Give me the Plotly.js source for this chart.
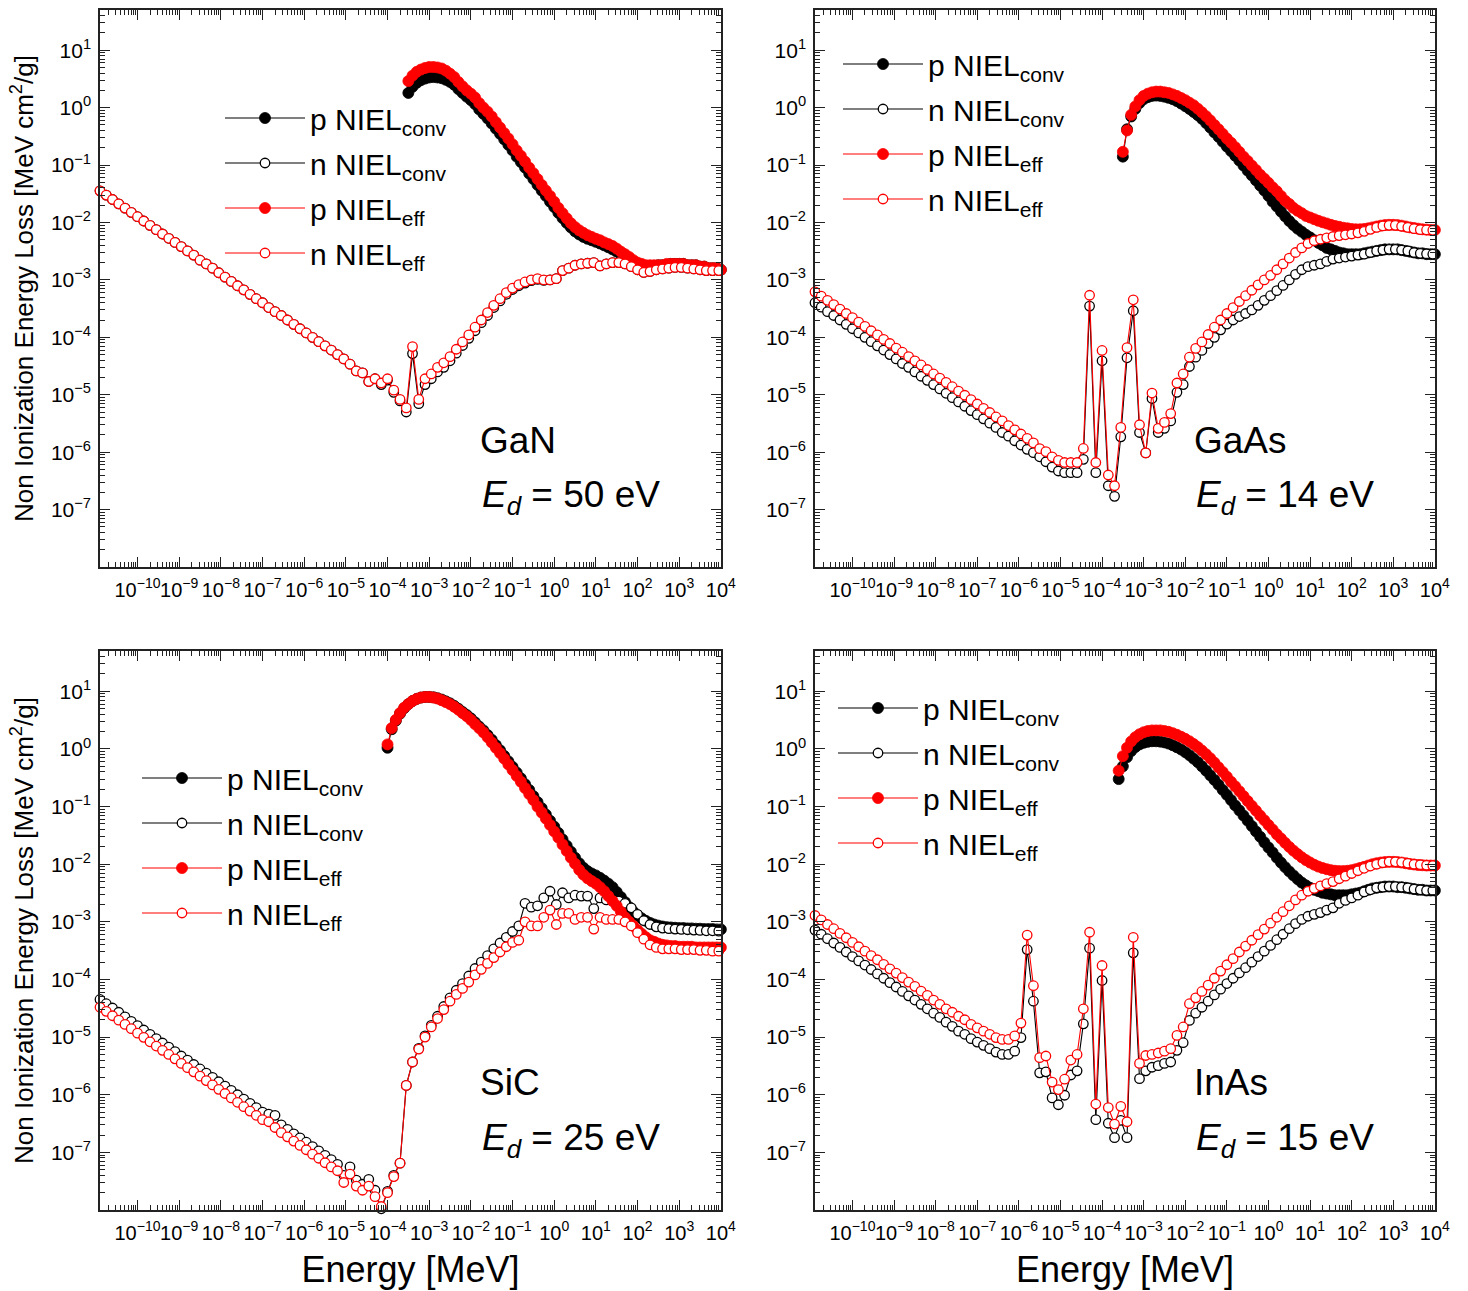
<!DOCTYPE html>
<html>
<head>
<meta charset="utf-8">
<script src="https://cdn.plot.ly/plotly-3.0.1.min.js"></script>
<style>
html,body{margin:0;padding:0;background:#ffffff;}
#chart{width:1468px;height:1291px;}
</style>
</head>
<body>
<div id="chart"></div>
<script>
const N = null;

// Energy grids, stored as log10(E / MeV)
const nLogE = [
-10.9,-10.75,-10.6,-10.45,-10.3,-10.15,-10.0,-9.85,-9.7,-9.55,
-9.4,-9.25,-9.1,-8.95,-8.8,-8.65,-8.5,-8.35,-8.2,-8.05,
-7.9,-7.75,-7.6,-7.45,-7.3,-7.15,-7.0,-6.85,-6.7,-6.55,
-6.4,-6.25,-6.1,-5.95,-5.8,-5.65,-5.5,-5.35,-5.2,-5.05,
-4.9,-4.75,-4.6,-4.45,-4.3,-4.15,-4.0,-3.85,-3.7,-3.55,
-3.4,-3.25,-3.1,-2.95,-2.8,-2.65,-2.5,-2.35,-2.2,-2.05,
-1.9,-1.75,-1.6,-1.45,-1.3,-1.15,-1.0,-0.85,-0.7,-0.55,
-0.4,-0.25,-0.1,0.05,0.2,0.35,0.5,0.65,0.8,0.95,
1.1,1.25,1.4,1.55,1.7,1.85,2.0,2.15,2.3,2.45,
2.6,2.75,2.9,3.05,3.2,3.35,3.5,3.65,3.8,3.95];

const pLogE = [
-4.0,-3.9,-3.8,-3.7,-3.6,-3.5,-3.4,-3.3,-3.2,-3.1,
-3.0,-2.9,-2.8,-2.7,-2.6,-2.5,-2.4,-2.3,-2.2,-2.1,
-2.0,-1.9,-1.8,-1.7,-1.6,-1.5,-1.4,-1.3,-1.2,-1.1,
-1.0,-0.9,-0.8,-0.7,-0.6,-0.5,-0.4,-0.3,-0.2,-0.1,
0.0,0.1,0.2,0.3,0.4,0.5,0.6,0.7,0.8,0.9,
1.0,1.1,1.2,1.3,1.4,1.5,1.6,1.7,1.8,1.9,
2.0,2.1,2.2,2.3,2.4,2.5,2.6,2.7,2.8,2.9,
3.0,3.1,3.2,3.3,3.4,3.5,3.6,3.7,3.8,3.9,4.0];

// ---------------- GaN ----------------
const ganPConv = [N,N,N,N,N,
1.8,2.3,2.7,3.0,3.2, 3.35,3.4,3.35,3.25,3.05, 2.8,2.5,2.1,1.8,1.55,
1.35,1.15,0.93,0.78,0.65, 0.53,0.43,0.35,0.28,0.225, 0.18,0.14,0.113,0.09,0.071,
0.057,0.045,0.036,0.029,0.023, 0.0185,0.0147,0.0119,0.0098,0.0082, 0.007,0.0062,0.0056,0.0052,0.0049,
0.0046,0.0043,0.004,0.0037,0.0034, 0.0031,0.0028,0.0025,0.0023,0.0021, 0.0019,0.0018,0.0017,0.0017,0.0017,
0.0018,0.0018,0.0018,0.0019,0.0019, 0.0019,0.0019,0.0018,0.0018,0.0018, 0.0017,0.0017,0.0016,0.0016,0.0016,
0.0015];
const ganPEff = [N,N,N,N,N,
2.9,3.6,4.2,4.6,4.9, 5.1,5.1,5.0,4.8,4.4, 3.9,3.4,2.8,2.35,2.0,
1.75,1.5,1.2,1.0,0.85, 0.7,0.56,0.45,0.36,0.29, 0.23,0.18,0.145,0.115,0.09,
0.072,0.057,0.045,0.036,0.029, 0.023,0.018,0.0145,0.0118,0.0097, 0.0083,0.0073,0.0066,0.006,0.0056,
0.0052,0.0049,0.0045,0.0042,0.0039, 0.0035,0.0031,0.0028,0.0025,0.0022, 0.002,0.0019,0.0018,0.0018,0.0018,
0.0018,0.0018,0.0019,0.0019,0.0019, 0.0019,0.0019,0.0018,0.0018,0.0018, 0.0017,0.0017,0.0016,0.0016,0.0016,
0.0015];
const ganNConv = [
0.0355,0.030,0.0251,0.0211,0.0178,0.0150,0.0126,0.0106,0.0089,0.0075,
0.0063,0.0053,0.0045,0.0038,0.0032,0.0027,0.0022,0.0019,0.0016,0.00133,
0.00112,0.00094,0.00079,0.00067,0.00056,0.00047,0.00040,0.00033,0.00028,0.00024,
0.00020,0.000168,0.000141,0.000119,0.000100,8.4e-5,7.1e-5,6.0e-5,5.0e-5,4.2e-5,
3.4e-5,2.6e-5,2.4e-5,1.7e-5,1.9e-5,1.5e-5,1.8e-5,1.1e-5,7.8e-6,5.0e-6,
5.2e-5,7.0e-6,1.5e-5,1.9e-5,2.5e-5,3.0e-5,3.9e-5,5.3e-5,7.2e-5,9.6e-5,
1.3e-4,1.8e-4,2.4e-4,3.3e-4,4.3e-4,5.6e-4,6.8e-4,7.9e-4,8.8e-4,9.7e-4,
1.02e-3,9.8e-4,1.0e-3,1.05e-3,1.45e-3,1.6e-3,1.8e-3,1.9e-3,1.95e-3,2.0e-3,
1.75e-3,1.9e-3,2.0e-3,2.0e-3,1.9e-3,1.7e-3,1.5e-3,1.35e-3,1.4e-3,1.5e-3,
1.55e-3,1.6e-3,1.65e-3,1.65e-3,1.6e-3,1.55e-3,1.5e-3,1.45e-3,1.45e-3,1.45e-3];
const ganNEff = [
0.0355,0.030,0.0251,0.0211,0.0178,0.0150,0.0126,0.0106,0.0089,0.0075,
0.0063,0.0053,0.0045,0.0038,0.0032,0.0027,0.0022,0.0019,0.0016,0.00133,
0.00112,0.00094,0.00079,0.00067,0.00056,0.00047,0.00040,0.00033,0.00028,0.00024,
0.00020,0.000168,0.000141,0.000119,0.000100,8.4e-5,7.1e-5,6.0e-5,5.0e-5,4.2e-5,
3.4e-5,2.6e-5,2.4e-5,1.7e-5,1.9e-5,1.6e-5,1.9e-5,1.2e-5,8.3e-6,5.9e-6,
6.9e-5,8.3e-6,1.9e-5,2.3e-5,3.0e-5,3.6e-5,4.6e-5,6.2e-5,8.3e-5,1.1e-4,
1.5e-4,2.0e-4,2.7e-4,3.6e-4,4.7e-4,6.0e-4,7.2e-4,8.3e-4,9.2e-4,1.0e-3,
1.05e-3,1.0e-3,1.0e-3,1.05e-3,1.45e-3,1.6e-3,1.8e-3,1.9e-3,1.95e-3,2.0e-3,
1.75e-3,1.9e-3,2.0e-3,2.0e-3,1.9e-3,1.7e-3,1.5e-3,1.35e-3,1.4e-3,1.5e-3,
1.55e-3,1.6e-3,1.65e-3,1.65e-3,1.6e-3,1.55e-3,1.5e-3,1.45e-3,1.45e-3,1.45e-3];

// ---------------- GaAs ----------------
const gaasPConv = [N,N,N,N,N,
0.14,0.42,0.7,0.95,1.2, 1.4,1.52,1.6,1.62,1.6, 1.55,1.48,1.4,1.3,1.18,
1.06,0.95,0.84,0.74,0.64, 0.54,0.45,0.37,0.31,0.255, 0.21,0.175,0.145,0.12,0.098,
0.08,0.066,0.054,0.044,0.036, 0.029,0.023,0.019,0.0155,0.0128, 0.0106,0.009,0.0078,0.0069,0.0061,
0.0055,0.0049,0.0044,0.004,0.0036, 0.0034,0.0032,0.003,0.0029,0.0028, 0.0028,0.0028,0.0028,0.0029,0.003,
0.0031,0.0032,0.0033,0.0034,0.0034, 0.0034,0.0034,0.0033,0.0032,0.0031, 0.003,0.0029,0.0029,0.0028,0.0028,
0.0028];
const gaasPEff = [N,N,N,N,N,
0.17,0.40,0.75,1.05,1.35, 1.6,1.75,1.85,1.9,1.9, 1.85,1.8,1.7,1.6,1.47,
1.35,1.22,1.1,0.96,0.83, 0.71,0.6,0.5,0.42,0.35, 0.29,0.245,0.205,0.17,0.14,
0.118,0.098,0.082,0.068,0.058, 0.049,0.041,0.035,0.029,0.024, 0.021,0.018,0.016,0.0145,0.013,
0.0122,0.0114,0.0107,0.0101,0.0096, 0.0091,0.0087,0.0084,0.0081,0.0079, 0.0077,0.0076,0.0076,0.0077,0.0079,
0.0082,0.0085,0.0088,0.009,0.0091, 0.0091,0.009,0.0088,0.0085,0.0082, 0.008,0.0078,0.0076,0.0075,0.0074,
0.0074];
const gaasNConv = [
4.0e-4,3.35e-4,2.8e-4,2.4e-4,2.0e-4,1.68e-4,1.41e-4,1.19e-4,1.0e-4,8.4e-5,
7.1e-5,6.0e-5,5.0e-5,4.2e-5,3.5e-5,3.0e-5,2.5e-5,2.1e-5,1.78e-5,1.5e-5,
1.26e-5,1.06e-5,8.9e-6,7.5e-6,6.3e-6,5.3e-6,4.5e-6,3.8e-6,3.2e-6,2.7e-6,
2.2e-6,1.9e-6,1.58e-6,1.33e-6,1.12e-6,9.8e-7,8.3e-7,6.8e-7,5.5e-7,4.7e-7,
4.4e-7,4.4e-7,4.4e-7,7.5e-7,3.5e-4,4.4e-7,3.9e-5,2.6e-7,1.7e-7,1.85e-6,
4.4e-5,2.9e-4,2.2e-6,9.7e-7,8.6e-6,2.2e-6,2.6e-6,3.5e-6,1.1e-5,1.5e-5,
3.1e-5,4.5e-5,5.9e-5,7.8e-5,1.0e-4,1.35e-4,1.7e-4,2.0e-4,2.3e-4,2.6e-4,
3.0e-4,3.6e-4,4.4e-4,5.3e-4,6.5e-4,8.0e-4,1.0e-3,1.25e-3,1.5e-3,1.7e-3,
1.8e-3,1.9e-3,2.1e-3,2.3e-3,2.4e-3,2.5e-3,2.6e-3,2.7e-3,2.8e-3,3.0e-3,
3.2e-3,3.3e-3,3.4e-3,3.4e-3,3.3e-3,3.2e-3,3.0e-3,2.9e-3,2.85e-3,2.8e-3];
const gaasNEff = [
6.2e-4,5.2e-4,4.4e-4,3.7e-4,3.1e-4,2.6e-4,2.2e-4,1.84e-4,1.55e-4,1.3e-4,
1.1e-4,9.2e-5,7.8e-5,6.5e-5,5.5e-5,4.6e-5,3.9e-5,3.3e-5,2.75e-5,2.3e-5,
1.95e-5,1.64e-5,1.38e-5,1.16e-5,9.8e-6,8.2e-6,6.9e-6,5.8e-6,4.9e-6,4.1e-6,
3.5e-6,2.9e-6,2.45e-6,2.07e-6,1.74e-6,1.45e-6,1.15e-6,1.02e-6,8.3e-7,7.2e-7,
6.6e-7,6.6e-7,6.6e-7,1.16e-6,5.4e-4,6.6e-7,5.9e-5,4.0e-7,2.6e-7,2.7e-6,
6.6e-5,4.5e-4,3.0e-6,9.7e-7,1.07e-5,2.6e-6,3.3e-6,4.7e-6,1.6e-5,2.3e-5,
4.5e-5,6.4e-5,8.3e-5,1.12e-4,1.5e-4,2.0e-4,2.6e-4,3.3e-4,4.2e-4,5.3e-4,
6.6e-4,8.2e-4,1.0e-3,1.2e-3,1.5e-3,1.9e-3,2.4e-3,3.0e-3,3.6e-3,4.3e-3,
4.8e-3,5.1e-3,5.4e-3,5.7e-3,5.9e-3,6.1e-3,6.3e-3,6.6e-3,7.0e-3,7.6e-3,
8.2e-3,8.7e-3,8.9e-3,8.9e-3,8.6e-3,8.2e-3,7.8e-3,7.5e-3,7.4e-3,7.3e-3];

// ---------------- SiC ----------------
const sicPConv = [
1.05,2.2,3.1,4.1,5.1, 6.0,6.8,7.4,7.8,8.0, 8.0,7.9,7.6,7.2,6.7, 6.2,5.6,5.0,4.4,3.9,
3.4,2.9,2.45,2.1,1.75, 1.45,1.17,0.95,0.76,0.61, 0.49,0.39,0.31,0.245,0.195,
0.152,0.12,0.094,0.073,0.057, 0.045,0.035,0.027,0.021,0.0165, 0.013,0.0104,0.0087,0.0076,0.0069,
0.0064,0.0058,0.0052,0.0046,0.004, 0.0033,0.0027,0.0022,0.0018,0.0015, 0.0013,0.00115,0.00104,0.00096,0.0009,
0.00086,0.00083,0.00081,0.0008,0.00079, 0.00078,0.00078,0.00077,0.00077,0.00076, 0.00076,0.00075,0.00075,0.00075,0.00074,
0.00074];
const sicPEff = [
1.2,2.3,3.2,4.2,5.2, 6.0,6.8,7.4,7.8,8.0, 8.0,7.8,7.5,7.0,6.5, 6.0,5.4,4.8,4.2,3.7,
3.2,2.7,2.3,1.95,1.6, 1.3,1.05,0.85,0.68,0.54, 0.43,0.34,0.27,0.21,0.165,
0.13,0.1,0.079,0.062,0.048, 0.037,0.029,0.022,0.017,0.013, 0.0102,0.008,0.0066,0.0057,0.0051,
0.0046,0.004,0.0034,0.0028,0.0023, 0.0019,0.0015,0.0012,0.001,0.00085, 0.00072,0.00062,0.00054,0.00048,0.00045,
0.00042,0.0004,0.00039,0.00038,0.00038, 0.00037,0.00037,0.00037,0.00037,0.00036, 0.00036,0.00036,0.00036,0.00036,0.00036,
0.00036];
const sicNConv = [
4.5e-5,3.8e-5,3.2e-5,2.7e-5,2.24e-5,1.88e-5,1.58e-5,1.33e-5,1.12e-5,9.4e-6,
7.9e-6,6.7e-6,5.6e-6,4.7e-6,4.0e-6,3.35e-6,2.8e-6,2.37e-6,2.0e-6,1.68e-6,
1.41e-6,1.19e-6,1.0e-6,8.4e-7,7.1e-7,6.0e-7,5.0e-7,4.6e-7,4.4e-7,3.0e-7,
2.5e-7,2.1e-7,1.78e-7,1.5e-7,1.26e-7,1.06e-7,8.9e-8,7.5e-8,6.2e-8,4.0e-8,
5.6e-8,3.3e-8,2.8e-8,3.4e-8,2.2e-8,1.05e-8,2.1e-8,4.0e-8,6.5e-8,1.45e-6,
3.7e-6,6.4e-6,1.05e-5,1.6e-5,2.3e-5,3.4e-5,4.8e-5,6.5e-5,8.5e-5,1.15e-4,
1.55e-4,2.0e-4,2.6e-4,3.4e-4,4.3e-4,5.4e-4,6.8e-4,8.5e-4,2.1e-3,1.8e-3,
1.9e-3,2.6e-3,3.4e-3,2.0e-3,3.2e-3,2.6e-3,2.9e-3,2.8e-3,2.8e-3,1.7e-3,
2.6e-3,2.4e-3,2.4e-3,2.3e-3,2.1e-3,1.75e-3,1.35e-3,1.05e-3,9.0e-4,8.2e-4,
7.8e-4,7.6e-4,7.5e-4,7.4e-4,7.3e-4,7.2e-4,7.1e-4,7.0e-4,7.0e-4,6.9e-4];
const sicNEff = [
3.3e-5,2.8e-5,2.35e-5,1.97e-5,1.66e-5,1.4e-5,1.17e-5,9.9e-6,8.3e-6,7.0e-6,
5.9e-6,5.0e-6,4.2e-6,3.5e-6,2.95e-6,2.5e-6,2.1e-6,1.76e-6,1.48e-6,1.24e-6,
1.05e-6,8.8e-7,7.4e-7,6.2e-7,5.2e-7,4.4e-7,3.7e-7,3.4e-7,2.7e-7,2.2e-7,
1.86e-7,1.57e-7,1.32e-7,1.11e-7,9.3e-8,7.9e-8,6.6e-8,5.6e-8,4.8e-8,3.0e-8,
4.2e-8,2.6e-8,2.2e-8,2.6e-8,1.7e-8,1.15e-8,2.0e-8,3.8e-8,6.5e-8,1.45e-6,
3.7e-6,6.2e-6,1.0e-5,1.5e-5,2.1e-5,3.0e-5,4.2e-5,5.5e-5,7.0e-5,9.0e-5,
1.2e-4,1.5e-4,1.9e-4,2.4e-4,3.0e-4,3.7e-4,4.4e-4,4.8e-4,1.0e-3,8.5e-4,
8.5e-4,1.2e-3,1.6e-3,9.0e-4,1.4e-3,1.4e-3,1.1e-3,1.2e-3,1.2e-3,7.5e-4,
1.2e-3,1.1e-3,1.1e-3,1.1e-3,1.0e-3,8.5e-4,6.5e-4,5.0e-4,4.0e-4,3.6e-4,
3.4e-4,3.4e-4,3.4e-4,3.3e-4,3.3e-4,3.3e-4,3.2e-4,3.2e-4,3.1e-4,3.1e-4];

// ---------------- InAs ----------------
const inasPConv = [N,N,N,N,
0.3,0.5,0.72,0.92,1.08,1.2, 1.28,1.33,1.36,1.36,1.34, 1.3,1.24,1.16,1.07,0.98,
0.88,0.78,0.68,0.59,0.5, 0.42,0.35,0.29,0.24,0.195, 0.16,0.13,0.105,0.086,0.07,
0.057,0.046,0.037,0.03,0.024, 0.0195,0.016,0.013,0.0107,0.0089, 0.0075,0.0064,0.0055,0.0048,0.0043,
0.0039,0.0036,0.0034,0.0032,0.0031, 0.003,0.0029,0.0029,0.0029,0.0029, 0.003,0.0031,0.0032,0.0034,0.0036,
0.0038,0.0039,0.004,0.0041,0.0041, 0.0041,0.004,0.004,0.0039,0.0038, 0.0037,0.0036,0.0036,0.0035,0.0035,
0.0035];
const inasPEff = [N,N,N,N,
0.42,0.75,1.05,1.35,1.6,1.8, 1.95,2.05,2.1,2.1,2.1, 2.05,1.98,1.88,1.76,1.63,
1.5,1.36,1.22,1.08,0.94, 0.81,0.69,0.58,0.48,0.4, 0.33,0.27,0.225,0.185,0.152,
0.125,0.103,0.085,0.07,0.058, 0.048,0.04,0.033,0.028,0.0235, 0.02,0.0172,0.015,0.0132,0.0118,
0.0107,0.0098,0.0091,0.0086,0.0082, 0.0079,0.0077,0.0076,0.0076,0.0077, 0.0079,0.0082,0.0086,0.009,0.0095,
0.01,0.0104,0.0107,0.0109,0.011, 0.011,0.0109,0.0107,0.0104,0.0101, 0.0099,0.0097,0.0096,0.0095,0.0095,
0.0095];
const inasNConv = [
7.2e-4,6.1e-4,5.1e-4,4.3e-4,3.6e-4,3.0e-4,2.5e-4,2.1e-4,1.78e-4,1.49e-4,
1.25e-4,1.05e-4,8.8e-5,7.4e-5,6.2e-5,5.2e-5,4.4e-5,3.7e-5,3.1e-5,2.6e-5,
2.2e-5,1.82e-5,1.54e-5,1.27e-5,1.12e-5,9.4e-6,8.2e-6,7.2e-6,6.3e-6,5.5e-6,
5.0e-6,5.0e-6,5.7e-6,9.8e-6,3.3e-4,4.2e-5,2.4e-6,2.5e-6,8.8e-7,6.7e-7,
9.8e-7,2.2e-6,2.6e-6,1.7e-5,3.5e-4,3.7e-7,9.6e-5,3.2e-7,1.8e-7,3.6e-7,
1.8e-7,2.9e-4,1.9e-6,2.6e-6,3.0e-6,3.2e-6,3.5e-6,3.7e-6,5.9e-6,8.0e-6,
1.95e-5,2.6e-5,3.3e-5,4.2e-5,5.4e-5,6.8e-5,8.5e-5,1.05e-4,1.3e-4,1.6e-4,
2.0e-4,2.5e-4,3.1e-4,3.9e-4,4.9e-4,6.1e-4,7.6e-4,9.3e-4,1.1e-3,1.25e-3,
1.35e-3,1.45e-3,1.6e-3,1.75e-3,2.1e-3,2.35e-3,2.6e-3,2.9e-3,3.3e-3,3.6e-3,
3.9e-3,4.0e-3,4.1e-3,4.1e-3,4.0e-3,3.9e-3,3.7e-3,3.6e-3,3.5e-3,3.5e-3];
const inasNEff = [
1.29e-3,1.08e-3,9.0e-4,7.6e-4,6.3e-4,5.3e-4,4.4e-4,3.7e-4,3.1e-4,2.6e-4,
2.2e-4,1.83e-4,1.53e-4,1.29e-4,1.08e-4,9.0e-5,7.6e-5,6.3e-5,5.3e-5,4.4e-5,
3.7e-5,3.1e-5,2.7e-5,2.3e-5,2.0e-5,1.66e-5,1.45e-5,1.27e-5,1.12e-5,9.8e-6,
9.1e-6,9.1e-6,1.05e-5,1.75e-5,5.9e-4,7.8e-5,4.4e-6,4.7e-6,1.66e-6,1.23e-6,
1.86e-6,4.0e-6,5.0e-6,3.1e-5,6.6e-4,6.9e-7,1.75e-4,6.0e-7,3.1e-7,6.3e-7,
3.4e-7,5.4e-4,3.5e-6,4.8e-6,5.0e-6,5.3e-6,5.7e-6,6.3e-6,1.07e-5,1.5e-5,
3.8e-5,4.8e-5,6.2e-5,8.0e-5,1.05e-4,1.4e-4,1.8e-4,2.3e-4,3.0e-4,3.8e-4,
4.8e-4,6.0e-4,7.5e-4,9.5e-4,1.2e-3,1.5e-3,1.9e-3,2.4e-3,2.9e-3,3.4e-3,
3.8e-3,4.2e-3,4.6e-3,5.0e-3,5.6e-3,6.2e-3,6.9e-3,7.7e-3,8.5e-3,9.3e-3,
1.0e-2,1.06e-2,1.1e-2,1.1e-2,1.08e-2,1.04e-2,1.0e-2,9.8e-3,9.6e-3,9.5e-3];

// Labels
const materials = ['GaN', 'GaAs', 'SiC', 'InAs'];
const edValues = [50, 14, 25, 15];
const seriesNames = ['p NIEL<sub>conv</sub>', 'n NIEL<sub>conv</sub>', 'p NIEL<sub>eff</sub>', 'n NIEL<sub>eff</sub>'];
const xTickVals = [1e-10,1e-9,1e-8,1e-7,1e-6,1e-5,1e-4,1e-3,1e-2,1e-1,1e0,1e1,1e2,1e3,1e4];
const xTickText = ['10<sup>\u221210</sup>','10<sup>\u22129</sup>','10<sup>\u22128</sup>','10<sup>\u22127</sup>','10<sup>\u22126</sup>','10<sup>\u22125</sup>','10<sup>\u22124</sup>','10<sup>\u22123</sup>','10<sup>\u22122</sup>','10<sup>\u22121</sup>','10<sup>0</sup>','10<sup>1</sup>','10<sup>2</sup>','10<sup>3</sup>','10<sup>4</sup>'];
const yTickVals = [1e-7,1e-6,1e-5,1e-4,1e-3,1e-2,1e-1,1e0,1e1];
const yTickText = ['10<sup>\u22127</sup>','10<sup>\u22126</sup>','10<sup>\u22125</sup>','10<sup>\u22124</sup>','10<sup>\u22123</sup>','10<sup>\u22122</sup>','10<sup>\u22121</sup>','10<sup>0</sup>','10<sup>1</sup>'];
const yTitle = 'Non Ionization Energy Loss [MeV cm<sup>2</sup>/g]';
const xTitle = 'Energy [MeV]';

// ---------------- build ----------------
const FONT = 'Liberation Sans, Arial, Helvetica, sans-serif';
const toE = a => a.map(v => Math.pow(10, v));
const pE = toE(pLogE), nE = toE(nLogE);

const panelData = [
  [ganPConv, ganNConv, ganPEff, ganNEff],
  [gaasPConv, gaasNConv, gaasPEff, gaasNEff],
  [sicPConv, sicNConv, sicPEff, sicNEff],
  [inasPConv, inasNConv, inasPEff, inasNEff]
];
const colors = ['#000000', '#000000', '#ff0000', '#ff0000'];
const isP = [true, false, true, false];

const traces = [];
panelData.forEach((series, pi) => {
  const s = pi === 0 ? '' : String(pi + 1);
  series.forEach((yv, si) => {
    const c = colors[si];
    traces.push({
      type: 'scatter',
      mode: 'lines+markers',
      x: isP[si] ? pE : nE,
      y: yv,
      xaxis: 'x' + s,
      yaxis: 'y' + s,
      name: seriesNames[si],
      legend: 'legend' + s,
      legendgroup: 'p' + pi + 's' + si,
      cliponaxis: false,
      line: {color: c, width: 1.1},
      marker: isP[si]
        ? {symbol: 'circle', size: 11, color: c, line: {color: c, width: 0.8}}
        : {symbol: 'circle', size: 9.5, color: '#ffffff', line: {color: c, width: 1.3}},
      hoverinfo: 'x+y+name'
    });
  });
});

function minorVals(lo, hi) {
  const v = [];
  for (let d = lo; d <= hi; d++) for (let m = 2; m <= 9; m++) v.push(m * Math.pow(10, d));
  return v;
}

const W = 1468, H = 1291;
const colX = [[100 / W, 721 / W], [815 / W, 1435 / W]];
const rowY = [[1 - 567 / H, 1 - 10 / H], [1 - 1210 / H, 1 - 651 / H]];

function xAxis(domain, anchor, showTitle) {
  const a = {
    type: 'log', domain: domain, anchor: anchor, range: [-10.9, 4.003],
    showline: true, linecolor: '#222', linewidth: 1.5, mirror: 'allticks',
    ticks: 'inside', ticklen: 10, tickwidth: 1.2, tickcolor: '#222',
    tickmode: 'array', tickvals: xTickVals, ticktext: xTickText, tickangle: 0,
    ticklabelstandoff: 4,
    tickfont: {family: FONT, size: 20, color: '#000'},
    minor: {ticks: 'inside', ticklen: 5, tickwidth: 1, tickcolor: '#222', tickmode: 'array', tickvals: minorVals(-11, 3), showgrid: false},
    showgrid: false, zeroline: false
  };
  if (showTitle) a.title = {text: xTitle, font: {family: FONT, size: 36, color: '#000'}, standoff: 14};
  return a;
}
function yAxis(domain, anchor, showTitle) {
  const a = {
    type: 'log', domain: domain, anchor: anchor, range: [-8, 1.7],
    showline: true, linecolor: '#222', linewidth: 1.5, mirror: 'allticks',
    ticks: 'inside', ticklen: 10, tickwidth: 1.2, tickcolor: '#222',
    tickmode: 'array', tickvals: yTickVals, ticktext: yTickText,
    ticklabelstandoff: 3,
    tickfont: {family: FONT, size: 21, color: '#000'},
    minor: {ticks: 'inside', ticklen: 5, tickwidth: 1, tickcolor: '#222', tickmode: 'array', tickvals: minorVals(-8, 1), showgrid: false},
    showgrid: false, zeroline: false
  };
  if (showTitle) a.title = {text: yTitle, font: {family: FONT, size: 26, color: '#000'}, standoff: 10};
  return a;
}

function legendAt(px, py) {
  return {
    x: px / W, y: 1 - py / H, xanchor: 'left', yanchor: 'top',
    bgcolor: 'rgba(0,0,0,0)', borderwidth: 0,
    font: {family: FONT, size: 30, color: '#000'},
    itemwidth: 80, tracegroupgap: 3, traceorder: 'grouped'
  };
}

// label positions (left x, centre y) in pixels for material name and Ed
const labelPos = [[478, 440, 480, 497], [1192, 440, 1194, 497], [478, 1082, 480, 1140], [1192, 1082, 1194, 1140]];
const annotations = [];
materials.forEach((m, i) => {
  const p = labelPos[i];
  annotations.push({xref: 'paper', yref: 'paper', x: p[0] / W, y: 1 - p[1] / H, xanchor: 'left', yanchor: 'middle',
    text: m, showarrow: false, font: {family: FONT, size: 37, color: '#000'}});
  annotations.push({xref: 'paper', yref: 'paper', x: p[2] / W, y: 1 - p[3] / H, xanchor: 'left', yanchor: 'middle',
    text: '<i>E<sub>d</sub></i> = ' + edValues[i] + ' eV', showarrow: false, font: {family: FONT, size: 37, color: '#000'}});
});

const layout = {
  width: W, height: H,
  margin: {l: 0, r: 0, t: 0, b: 0},
  paper_bgcolor: '#ffffff', plot_bgcolor: '#ffffff',
  font: {family: FONT, color: '#000'},
  showlegend: true,
  xaxis: xAxis(colX[0], 'y', false),  yaxis: yAxis(rowY[0], 'x', true),
  xaxis2: xAxis(colX[1], 'y2', false), yaxis2: yAxis(rowY[0], 'x2', false),
  xaxis3: xAxis(colX[0], 'y3', true),  yaxis3: yAxis(rowY[1], 'x3', true),
  xaxis4: xAxis(colX[1], 'y4', true),  yaxis4: yAxis(rowY[1], 'x4', false),
  legend: legendAt(220, 92),
  legend2: legendAt(838, 38),
  legend3: legendAt(137, 752),
  legend4: legendAt(833, 682),
  annotations: annotations
};

Plotly.newPlot('chart', traces, layout, {displayModeBar: false, responsive: false});
</script>
</body>
</html>
